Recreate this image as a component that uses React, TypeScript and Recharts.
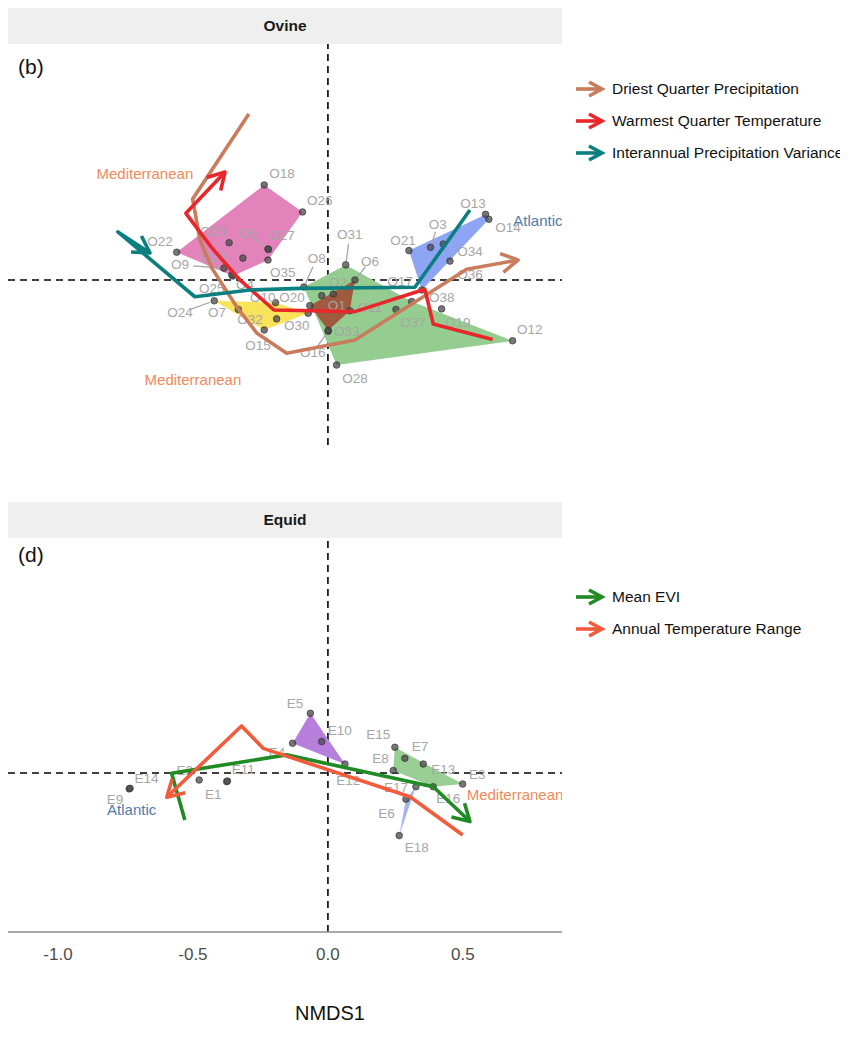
import React from "react";
import { ComposedChart, Scatter, XAxis, YAxis, ReferenceLine } from "recharts";

const FONT = '"Liberation Sans", Arial, Helvetica, sans-serif';

const X_DOMAIN: [number, number] = [-1.185, 0.867];
const X_TICKS = [-1, -0.5, 0, 0.5];
const OVINE_Y_DOMAIN: [number, number] = [-0.611, 0.874];
const EQUID_Y_DOMAIN: [number, number] = [-0.589, 0.87];

type Site = { id: string; x: number; y: number; lx: number; ly: number };
type Hull = { fill: string; ids: string[] };
type Gradient = { name: string; color: string; pts: number[][] };
type Region = { text: string; x: number; y: number; color: string };

// site scores (x, y) and repelled label positions (lx, ly)
const OVINE_SITES: Site[] = [
  { id: "O1", x: -0.023, y: -0.058, lx: 0.033, ly: -0.096 },
  { id: "O2", x: 0.02, y: -0.052, lx: 0.037, ly: -0.011 },
  { id: "O3", x: 0.38, y: 0.121, lx: 0.407, ly: 0.204 },
  { id: "O4", x: -0.352, y: 0.015, lx: -0.307, ly: -0.015 },
  { id: "O5", x: -0.222, y: 0.115, lx: -0.296, ly: 0.174 },
  { id: "O6", x: 0.1, y: 0.0, lx: 0.156, ly: 0.07 },
  { id: "O7", x: -0.332, y: -0.109, lx: -0.411, ly: -0.122 },
  { id: "O8", x: -0.089, y: -0.026, lx: -0.041, ly: 0.081 },
  { id: "O9", x: -0.385, y: 0.044, lx: -0.548, ly: 0.056 },
  { id: "O10", x: -0.194, y: -0.084, lx: -0.241, ly: -0.063 },
  { id: "O11", x: 0.081, y: -0.114, lx: 0.156, ly: -0.1 },
  { id: "O12", x: 0.684, y: -0.225, lx: 0.748, ly: -0.185 },
  { id: "O13", x: 0.584, y: 0.243, lx: 0.537, ly: 0.285 },
  { id: "O14", x: 0.596, y: 0.225, lx: 0.667, ly: 0.196 },
  { id: "O15", x: -0.236, y: -0.185, lx: -0.259, ly: -0.244 },
  { id: "O16", x: 0.001, y: -0.19, lx: -0.056, ly: -0.27 },
  { id: "O17", x: 0.348, y: -0.037, lx: 0.267, ly: -0.004 },
  { id: "O18", x: -0.236, y: 0.352, lx: -0.17, ly: 0.396 },
  { id: "O19", x: 0.421, y: -0.107, lx: 0.481, ly: -0.156 },
  { id: "O20", x: -0.067, y: -0.095, lx: -0.133, ly: -0.063 },
  { id: "O21", x: 0.3, y: 0.109, lx: 0.278, ly: 0.148 },
  { id: "O22", x: -0.56, y: 0.103, lx: -0.622, ly: 0.141 },
  { id: "O23", x: -0.366, y: 0.138, lx: -0.426, ly: 0.178 },
  { id: "O24", x: -0.421, y: -0.077, lx: -0.548, ly: -0.122 },
  { id: "O25", x: -0.356, y: 0.019, lx: -0.43, ly: -0.03 },
  { id: "O26", x: -0.094, y: 0.252, lx: -0.03, ly: 0.296 },
  { id: "O27", x: -0.22, y: 0.113, lx: -0.17, ly: 0.163 },
  { id: "O28", x: 0.032, y: -0.315, lx: 0.1, ly: -0.363 },
  { id: "O29", x: -0.315, y: 0.081, lx: -0.426, ly: 0.085 },
  { id: "O30", x: -0.073, y: -0.123, lx: -0.115, ly: -0.167 },
  { id: "O31", x: 0.066, y: 0.056, lx: 0.081, ly: 0.167 },
  { id: "O32", x: -0.19, y: -0.144, lx: -0.289, ly: -0.148 },
  { id: "O33", x: 0.001, y: -0.186, lx: 0.07, ly: -0.189 },
  { id: "O34", x: 0.427, y: 0.133, lx: 0.526, ly: 0.107 },
  { id: "O35", x: -0.222, y: 0.074, lx: -0.167, ly: 0.026 },
  { id: "O36", x: 0.452, y: 0.07, lx: 0.526, ly: 0.022 },
  { id: "O37", x: 0.252, y: -0.109, lx: 0.315, ly: -0.159 },
  { id: "O38", x: 0.31, y: -0.08, lx: 0.422, ly: -0.063 },
];

const OVINE_LEADERS = ["O3", "O5", "O6", "O8", "O9", "O16", "O24", "O31"];

const OVINE_HULLS: Hull[] = [
  { fill: "#e283bb", ids: ["O22", "O18", "O26", "O35", "O4"] },
  { fill: "#f8e35a", ids: ["O24", "O10", "O30", "O15"] },
  { fill: "#95cc90", ids: ["O8", "O31", "O38", "O12", "O28"] },
  { fill: "#9f5a3f", ids: ["O20", "O6", "O11", "O33"] },
  { fill: "#8ea5f3", ids: ["O21", "O13", "O14", "O17"] },
];

const OVINE_GRADIENTS: Gradient[] = [
  {
    name: "Driest Quarter Precipitation",
    color: "#c97c5c",
    pts: [
      [-0.293, 0.615], [-0.501, 0.3], [-0.474, 0.148], [-0.43, 0.044], [-0.338, -0.099],
      [-0.264, -0.196], [-0.153, -0.271], [0.1, -0.222], [0.514, 0.04], [0.704, 0.074],
    ],
  },
  {
    name: "Warmest Quarter Temperature",
    color: "#e8272b",
    pts: [
      [0.61, -0.22], [0.39, -0.163], [0.359, -0.034], [0.1, -0.117], [-0.2, -0.111],
      [-0.326, 0.0], [-0.43, 0.119], [-0.526, 0.247], [-0.381, 0.4],
    ],
  },
  {
    name: "Interannual Precipitation Variance",
    color: "#0b7f80",
    pts: [
      [0.526, 0.259], [0.322, -0.027], [-0.104, -0.031], [-0.289, -0.037], [-0.493, -0.062],
      [-0.778, 0.178], [-0.659, 0.1],
    ],
  },
];

const OVINE_REGIONS: Region[] = [
  { text: "Mediterranean", x: -0.678, y: 0.396, color: "#ef8a5c" },
  { text: "Mediterranean", x: -0.5, y: -0.37, color: "#ef8a5c" },
  { text: "Atlantic", x: 0.778, y: 0.219, color: "#4f7cab" },
];

const EQUID_SITES: Site[] = [
  { id: "E1", x: -0.375, y: -0.032, lx: -0.425, ly: -0.081 },
  { id: "E2", x: -0.477, y: -0.026, lx: -0.53, ly: 0.009 },
  { id: "E3", x: 0.499, y: -0.041, lx: 0.553, ly: -0.004 },
  { id: "E4", x: -0.131, y: 0.11, lx: -0.189, ly: 0.074 },
  { id: "E5", x: -0.065, y: 0.221, lx: -0.122, ly: 0.258 },
  { id: "E6", x: 0.289, y: -0.097, lx: 0.217, ly: -0.149 },
  { id: "E7", x: 0.285, y: 0.054, lx: 0.341, ly: 0.097 },
  { id: "E8", x: 0.242, y: 0.009, lx: 0.195, ly: 0.052 },
  { id: "E9", x: -0.736, y: -0.059, lx: -0.789, ly: -0.1 },
  { id: "E10", x: -0.023, y: 0.116, lx: 0.044, ly: 0.157 },
  { id: "E11", x: -0.372, y: -0.03, lx: -0.314, ly: 0.011 },
  { id: "E12", x: 0.063, y: 0.033, lx: 0.075, ly: -0.029 },
  { id: "E13", x: 0.353, y: 0.033, lx: 0.427, ly: 0.011 },
  { id: "E14", x: -0.733, y: -0.057, lx: -0.672, ly: -0.02 },
  { id: "E15", x: 0.248, y: 0.095, lx: 0.186, ly: 0.143 },
  { id: "E16", x: 0.39, y: -0.051, lx: 0.446, ly: -0.094 },
  { id: "E17", x: 0.326, y: -0.051, lx: 0.252, ly: -0.053 },
  { id: "E18", x: 0.264, y: -0.232, lx: 0.329, ly: -0.275 },
];

const EQUID_HULLS: Hull[] = [
  { fill: "#b77fdc", ids: ["E5", "E12", "E4"] },
  { fill: "#99cf95", ids: ["E15", "E3", "E16", "E8"] },
  { fill: "#a3b6f3", ids: ["E17", "E6", "E18"] },
];

const EQUID_GRADIENTS: Gradient[] = [
  {
    name: "Mean EVI",
    color: "#1f8b22",
    pts: [[-0.53, -0.174], [-0.579, -0.001], [-0.153, 0.067], [0.39, -0.051], [0.526, -0.18]],
  },
  {
    name: "Annual Temperature Range",
    color: "#f25c3d",
    pts: [[0.499, -0.23], [0.304, -0.088], [-0.24, 0.091], [-0.32, 0.174], [-0.597, -0.09]],
  },
];

const EQUID_REGIONS: Region[] = [
  { text: "Atlantic", x: -0.727, y: -0.137, color: "#4f7cab" },
  { text: "Mediterranean", x: 0.693, y: -0.081, color: "#ef8a5c" },
];

const empty = () => <g />;

function hullShape(fill: string) {
  return (props: any) => {
    const pts: { x: number; y: number }[] = props.points ?? [];
    if (pts.length < 3) return <g />;
    const d = pts.map((p, i) => `${i ? "L" : "M"}${p.x},${p.y}`).join(" ") + " Z";
    return <path d={d} fill={fill} stroke="none" />;
  };
}

function arrowShape(color: string) {
  return (props: any) => {
    const pts: { x: number; y: number }[] = props.points ?? [];
    if (pts.length < 2) return <g />;
    const d = pts.map((p, i) => `${i ? "L" : "M"}${p.x},${p.y}`).join(" ");
    const a = pts[pts.length - 2];
    const b = pts[pts.length - 1];
    const ang = Math.atan2(b.y - a.y, b.x - a.x);
    const len = 19;
    const spread = Math.PI / 6;
    const w1x = b.x - len * Math.cos(ang - spread);
    const w1y = b.y - len * Math.sin(ang - spread);
    const w2x = b.x - len * Math.cos(ang + spread);
    const w2y = b.y - len * Math.sin(ang + spread);
    return (
      <g fill="none" stroke={color} strokeWidth={3.6} strokeLinejoin="round">
        <path d={d} />
        <path d={`M${w1x},${w1y} L${b.x},${b.y} L${w2x},${w2y}`} />
      </g>
    );
  };
}

const siteDot = (p: any) => (
  <circle cx={p.cx} cy={p.cy} r={3.3} fill="#4a4a4a" fillOpacity={0.75} stroke="#333" strokeWidth={0.7} />
);

const siteLabel = (p: any) => (
  <text x={p.cx} y={p.cy} textAnchor="middle" dominantBaseline="central" fontSize={13.5} fill="#a6a6a6" fontFamily={FONT}>
    {p.payload.id}
  </text>
);

const regionLabel = (p: any) => (
  <text x={p.cx} y={p.cy} textAnchor="middle" dominantBaseline="central" fontSize={15} fill={p.payload.color} fontFamily={FONT}>
    {p.payload.text}
  </text>
);

type PanelProps = {
  sites: Site[];
  hulls: Hull[];
  gradients: Gradient[];
  regions: Region[];
  leaders: string[];
  yDomain: [number, number];
  height: number;
  showAxis: boolean;
};

function Panel({ sites, hulls, gradients, regions, leaders, yDomain, height, showAxis }: PanelProps) {
  const byId: Record<string, Site> = Object.fromEntries(sites.map((s) => [s.id, s]));
  const dash = { stroke: "#000", strokeDasharray: "7 5", strokeWidth: 1.6 };
  return (
    <ComposedChart width={554} height={height} margin={{ top: 0, right: 0, bottom: 0, left: 0 }}>
      <XAxis
        type="number"
        dataKey="x"
        domain={X_DOMAIN}
        ticks={X_TICKS}
        allowDataOverflow
        hide={!showAxis}
        height={60}
        tickLine={false}
        axisLine={{ stroke: "#8c8c8c", strokeWidth: 1.5 }}
        tick={{ fontSize: 17, fill: "#4d4d4d", fontFamily: FONT }}
        tickMargin={10}
        tickFormatter={(v: number) => v.toFixed(1)}
      />
      <YAxis type="number" dataKey="y" domain={yDomain} allowDataOverflow hide />
      {hulls.map((h, i) => (
        <Scatter
          key={`hull-${i}`}
          data={h.ids.map((id) => ({ x: byId[id].x, y: byId[id].y }))}
          line={hullShape(h.fill)}
          shape={empty}
          isAnimationActive={false}
        />
      ))}
      <ReferenceLine x={0} {...dash} />
      <ReferenceLine y={0} {...dash} />
      {leaders.map((id) => {
        const s = byId[id];
        const at = (t: number) => ({ x: s.lx + (s.x - s.lx) * t, y: s.ly + (s.y - s.ly) * t });
        return (
          <Scatter
            key={`leader-${id}`}
            data={[at(0.3), at(0.88)]}
            line={{ stroke: "#a6a6a6", strokeWidth: 1.3 }}
            shape={empty}
            isAnimationActive={false}
          />
        );
      })}
      <Scatter data={sites} shape={siteDot} isAnimationActive={false} />
      <Scatter data={sites.map((s) => ({ x: s.lx, y: s.ly, id: s.id }))} shape={siteLabel} isAnimationActive={false} />
      <Scatter data={regions} shape={regionLabel} isAnimationActive={false} />
      {gradients.map((g) => (
        <Scatter
          key={g.name}
          data={g.pts.map(([x, y]) => ({ x, y }))}
          line={arrowShape(g.color)}
          shape={empty}
          isAnimationActive={false}
        />
      ))}
    </ComposedChart>
  );
}

function Strip({ title, top }: { title: string; top: number }) {
  return (
    <div
      style={{
        position: "absolute",
        left: 0,
        top,
        width: 554,
        height: 36,
        background: "#efefef",
        display: "flex",
        alignItems: "center",
        justifyContent: "center",
        fontFamily: FONT,
        fontWeight: 700,
        fontSize: 15.5,
        color: "#1a1a1a",
      }}
    >
      {title}
    </div>
  );
}

function Legend({ items, top }: { items: Gradient[]; top: number }) {
  return (
    <div style={{ position: "absolute", left: 566, top, fontFamily: FONT, fontSize: 15.5, color: "#111" }}>
      {items.map((g) => (
        <div key={g.name} style={{ display: "flex", alignItems: "center", height: 32 }}>
          <svg width={32} height={20} style={{ marginRight: 6 }}>
            <g fill="none" stroke={g.color} strokeWidth={3.6}>
              <path d="M2,10 L28,10" />
              <path d="M15,3 L28,10 L15,17" />
            </g>
          </svg>
          <span>{g.name}</span>
        </div>
      ))}
    </div>
  );
}

const tagStyle: React.CSSProperties = {
  position: "absolute",
  left: 10,
  fontFamily: FONT,
  fontSize: 21,
  color: "#111",
  lineHeight: "20px",
};

export default function App() {
  return (
    <div style={{ position: "relative", width: 840, height: 1032, background: "#fff" }}>
      <Strip title="Ovine" top={0} />
      <div style={{ position: "absolute", left: 0, top: 36 }}>
        <Panel
          sites={OVINE_SITES}
          hulls={OVINE_HULLS}
          gradients={OVINE_GRADIENTS}
          regions={OVINE_REGIONS}
          leaders={OVINE_LEADERS}
          yDomain={OVINE_Y_DOMAIN}
          height={401}
          showAxis={false}
        />
      </div>
      <div style={{ ...tagStyle, top: 49 }}>(b)</div>
      <Legend items={OVINE_GRADIENTS} top={65} />

      <Strip title="Equid" top={494} />
      <div style={{ position: "absolute", left: 0, top: 530 }}>
        <Panel
          sites={EQUID_SITES}
          hulls={EQUID_HULLS}
          gradients={EQUID_GRADIENTS}
          regions={EQUID_REGIONS}
          leaders={[]}
          yDomain={EQUID_Y_DOMAIN}
          height={454}
          showAxis
        />
      </div>
      <div style={{ ...tagStyle, top: 537 }}>(d)</div>
      <Legend items={EQUID_GRADIENTS} top={573} />

      <div
        style={{
          position: "absolute",
          left: 252,
          width: 140,
          top: 994,
          textAlign: "center",
          fontFamily: FONT,
          fontSize: 20,
          color: "#111",
        }}
      >
        NMDS1
      </div>
    </div>
  );
}
